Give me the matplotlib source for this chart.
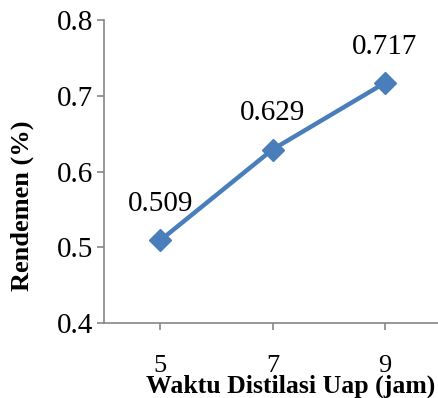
import numpy as np
import matplotlib.pyplot as plt

plt.rcParams['font.family'] = ['Liberation Serif', 'DejaVu Serif']

waktu = ['5', '7', '9']
rendemen = [0.509, 0.629, 0.717]
label_teks = ['0.509', '0.629', '0.717']
y_ticks = [0.4, 0.5, 0.6, 0.7, 0.8]

fig = plt.figure(figsize=(4.38, 3.98), dpi=100)
ax = fig.add_axes([104 / 438, 1 - 323 / 398, 337 / 438, 303 / 398])

x = np.arange(len(waktu))
ax.plot(x, rendemen, '-D', color='#4A7EBB', lw=3.2, ms=11, mfc='#4A7EBB', mec='#4A7EBB')

for xi, yi, t in zip(x, rendemen, label_teks):
    ax.annotate(t, (xi, yi), xytext=(0, 26), textcoords='offset points',
                ha='center', va='center', fontsize=21)

ax.set_xlim(-0.5, 2.5)
ax.set_ylim(0.4, 0.8)
ax.set_xticks(x)
ax.set_xticklabels(waktu)
ax.set_yticks(y_ticks)
ax.set_yticklabels([f'{v:.1f}' for v in y_ticks])

for s in ['top', 'right']:
    ax.spines[s].set_visible(False)
for s in ['left', 'bottom']:
    ax.spines[s].set_color('#868686')
    ax.spines[s].set_linewidth(1.2)

ax.tick_params(axis='both', colors='#868686', labelcolor='black', labelsize=21,
               length=5, width=1.2, direction='out')
ax.tick_params(axis='x', pad=18, labelsize=19)
ax.tick_params(axis='y', pad=3)

fig.text(291 / 438, 1 - 386 / 398, 'Waktu Distilasi Uap (jam)', fontsize=18.5,
         fontweight='bold', ha='center', va='center')
fig.text(22 / 438, 1 - 206 / 398, 'Rendemen (%)', fontsize=19,
         fontweight='bold', ha='center', va='center', rotation=90)

fig.savefig('out.png', dpi=100)
